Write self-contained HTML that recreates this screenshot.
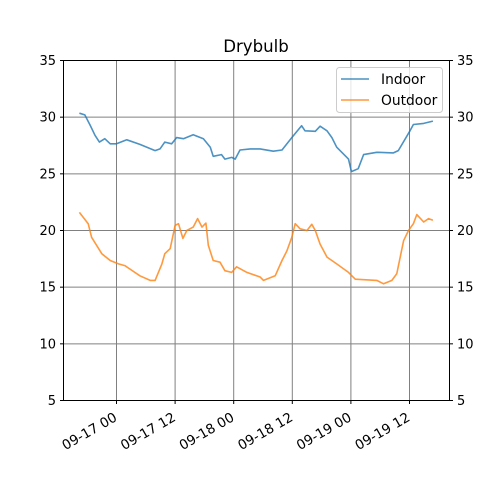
<!DOCTYPE html>
<html><head><meta charset="utf-8"><style>
html,body{margin:0;padding:0;background:#fff;}
svg{display:block;font-family:"DejaVu Sans","Liberation Sans",sans-serif;}
</style></head><body>
<svg id="chart" width="500" height="500" viewBox="0 0 500 500">
<rect width="500" height="500" fill="#fff"/>
<g id="grid"></g>
<g id="series"></g>
<rect x="63.5" y="60.5" width="386" height="340" fill="none" stroke="#000" stroke-width="1"/>
<g id="axes"></g>
<text x="256" y="52" text-anchor="middle" font-size="16.6">Drybulb</text>
<g>
<rect x="336.5" y="67.5" width="106" height="45" rx="3" fill="#fff" fill-opacity="0.8" stroke="#ccc"/>
<line x1="341" y1="79" x2="369" y2="79" stroke="#1f77b4" stroke-opacity="0.8" stroke-width="1.6"/>
<text x="381" y="84" font-size="13.8">Indoor</text>
<line x1="341" y1="100" x2="369" y2="100" stroke="#ff7f0e" stroke-opacity="0.8" stroke-width="1.6"/>
<text x="381" y="105" font-size="13.8">Outdoor</text>
</g>
</svg>
<script>
const yTicks=[5,10,15,20,25,30,35];
const xTickHours=[0,12,24,36,48,60];
const xTickLabels=["09-17 00","09-17 12","09-18 00","09-18 12","09-19 00","09-19 12"];
const indoorHours=[-7.6,-6.5,-5.4,-4.4,-3.5,-2.4,-1.3,0,2.1,4.8,7.9,8.9,9.9,11.3,12.3,13.7,15.7,17.8,19.2,19.8,21.5,22.2,23.6,24.3,25.3,27.4,29.4,32.1,33.9,35.9,37.9,38.6,40.7,41.7,43.1,44.1,45.1,47.5,48.1,49.5,50.6,53.3,56.7,57.7,60.1,60.8,62.9,64.8];
const indoorValues=[30.35,30.2,29.3,28.4,27.8,28.1,27.65,27.65,28.0,27.6,27.05,27.2,27.8,27.65,28.2,28.1,28.45,28.1,27.35,26.55,26.7,26.3,26.45,26.3,27.1,27.2,27.2,27.0,27.1,28.2,29.25,28.8,28.75,29.2,28.8,28.2,27.35,26.3,25.2,25.45,26.7,26.9,26.85,27.05,28.8,29.35,29.45,29.65];
const outdoorHours=[-7.6,-5.8,-5.1,-4.1,-3.0,-1.3,0.4,1.7,4.8,6.9,7.9,9.3,9.9,11.0,12.0,12.7,13.6,14.4,15.7,16.6,17.5,18.3,18.8,19.8,21.2,22.2,23.6,24.6,26.7,29.4,30.1,32.5,33.9,34.9,35.9,36.6,37.6,39.0,40.0,40.7,41.7,43.1,45.1,47.5,48.9,53.3,54.7,56.4,57.4,58.8,59.8,60.8,61.5,62.9,63.9,64.8];
const outdoorValues=[21.6,20.6,19.4,18.7,17.95,17.35,17.05,16.9,16.0,15.6,15.6,17.05,17.95,18.4,20.45,20.6,19.3,20.0,20.3,21.05,20.3,20.65,18.7,17.35,17.2,16.45,16.3,16.8,16.3,15.9,15.6,16.0,17.35,18.2,19.4,20.6,20.15,20.0,20.55,20.0,18.8,17.65,17.05,16.3,15.7,15.6,15.3,15.6,16.2,19.1,20.0,20.6,21.4,20.75,21.05,20.9];
const NS='http://www.w3.org/2000/svg';
function xs(h){return 116.5+h*(292.3-116.5)/36;}
function ys(v){return 400.5-(v-5)*(340/30);}
function mk(tag,attrs,parent){const e=document.createElementNS(NS,tag);for(const k in attrs)e.setAttribute(k,attrs[k]);parent.appendChild(e);return e;}
const grid=document.getElementById('grid'),axes=document.getElementById('axes'),series=document.getElementById('series');
yTicks.forEach((t,i)=>{
  const y=ys(t);
  const g=mk('line',{x1:63.5,x2:449.5,y1:y,y2:y,stroke:'#808080','stroke-width':1},grid);
  
  
  const tl=mk('line',{x1:60,x2:63.5,y1:y,y2:y,stroke:'#000'},axes);
  
  
  const tr=mk('line',{x1:449.5,x2:453,y1:y,y2:y,stroke:'#000'},axes);
  
  
  const a=mk('text',{x:56,y:y+4.5,'text-anchor':'end','font-size':13},axes);a.textContent=t;
  
  
  const b=mk('text',{x:457,y:y+4.5,'text-anchor':'start','font-size':13},axes);b.textContent=t;
  
  
});
xTickHours.forEach((h,i)=>{
  const x=xs(h);
  const g=mk('line',{x1:x,x2:x,y1:60.5,y2:400.5,stroke:'#808080','stroke-width':1},grid);
  
  
  const t=mk('line',{x1:x,x2:x,y1:400.5,y2:404,stroke:'#000'},axes);
  
  
  const ax=x+1.5, ay=420;
  const l=mk('text',{x:ax,y:ay,'text-anchor':'end','font-size':13.5,transform:'rotate(-30 '+ax+' '+ay+')'},axes);
  l.textContent=xTickLabels[i];
  
  
});
function line(hs,vs,color,name){
  const d=hs.map((h,i)=>(i?'L':'M')+xs(h).toFixed(1)+' '+ys(vs[i]).toFixed(1)).join(' ');
  const p=mk('path',{d:d,fill:'none',stroke:color,'stroke-opacity':0.8,'stroke-width':1.6,'stroke-linejoin':'round'},series);
  
  
}
line(indoorHours,indoorValues,'#1f77b4','indoor-line');
line(outdoorHours,outdoorValues,'#ff7f0e','outdoor-line');
</script>
</body></html>
